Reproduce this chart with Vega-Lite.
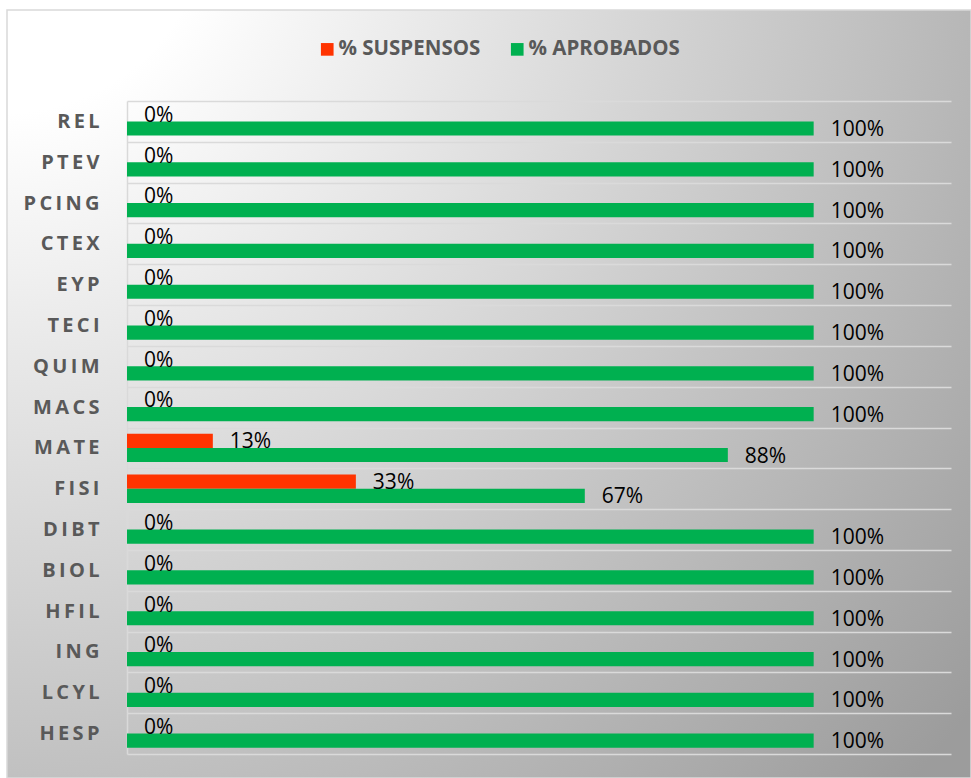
{
  "$schema": "https://vega.github.io/schema/vega-lite/v6.json",
  "width": 964,
  "height": 768,
  "autosize": {"type": "none"},
  "padding": {"left": 7, "top": 10, "right": 0, "bottom": 0},
  "background": "#ffffff",
  "config": {
    "view": {
      "stroke": "#D9D9D9",
      "strokeWidth": 1.5,
      "fill": {
        "gradient": "radial",
        "x1": 0, "y1": 0, "r1": 0,
        "x2": 0, "y2": 0, "r2": 1.3,
        "stops": [
          {"offset": 0, "color": "#ffffff"},
          {"offset": 0.16, "color": "#ffffff"},
          {"offset": 1, "color": "#9c9c9c"}
        ]
      }
    },
    "font": "Open Sans"
  },
  "data": {
    "values": [
      {"asignatura": "REL", "serie": "% SUSPENSOS", "valor": 0},
      {"asignatura": "REL", "serie": "% APROBADOS", "valor": 1},
      {"asignatura": "PTEV", "serie": "% SUSPENSOS", "valor": 0},
      {"asignatura": "PTEV", "serie": "% APROBADOS", "valor": 1},
      {"asignatura": "PCING", "serie": "% SUSPENSOS", "valor": 0},
      {"asignatura": "PCING", "serie": "% APROBADOS", "valor": 1},
      {"asignatura": "CTEX", "serie": "% SUSPENSOS", "valor": 0},
      {"asignatura": "CTEX", "serie": "% APROBADOS", "valor": 1},
      {"asignatura": "EYP", "serie": "% SUSPENSOS", "valor": 0},
      {"asignatura": "EYP", "serie": "% APROBADOS", "valor": 1},
      {"asignatura": "TECI", "serie": "% SUSPENSOS", "valor": 0},
      {"asignatura": "TECI", "serie": "% APROBADOS", "valor": 1},
      {"asignatura": "QUIM", "serie": "% SUSPENSOS", "valor": 0},
      {"asignatura": "QUIM", "serie": "% APROBADOS", "valor": 1},
      {"asignatura": "MACS", "serie": "% SUSPENSOS", "valor": 0},
      {"asignatura": "MACS", "serie": "% APROBADOS", "valor": 1},
      {"asignatura": "MATE", "serie": "% SUSPENSOS", "valor": 0.125},
      {"asignatura": "MATE", "serie": "% APROBADOS", "valor": 0.875},
      {"asignatura": "FISI", "serie": "% SUSPENSOS", "valor": 0.3333},
      {"asignatura": "FISI", "serie": "% APROBADOS", "valor": 0.6667},
      {"asignatura": "DIBT", "serie": "% SUSPENSOS", "valor": 0},
      {"asignatura": "DIBT", "serie": "% APROBADOS", "valor": 1},
      {"asignatura": "BIOL", "serie": "% SUSPENSOS", "valor": 0},
      {"asignatura": "BIOL", "serie": "% APROBADOS", "valor": 1},
      {"asignatura": "HFIL", "serie": "% SUSPENSOS", "valor": 0},
      {"asignatura": "HFIL", "serie": "% APROBADOS", "valor": 1},
      {"asignatura": "ING", "serie": "% SUSPENSOS", "valor": 0},
      {"asignatura": "ING", "serie": "% APROBADOS", "valor": 1},
      {"asignatura": "LCYL", "serie": "% SUSPENSOS", "valor": 0},
      {"asignatura": "LCYL", "serie": "% APROBADOS", "valor": 1},
      {"asignatura": "HESP", "serie": "% SUSPENSOS", "valor": 0},
      {"asignatura": "HESP", "serie": "% APROBADOS", "valor": 1}
    ]
  },
  "encoding": {
    "y": {
      "field": "asignatura",
      "type": "nominal",
      "sort": ["REL", "PTEV", "PCING", "CTEX", "EYP", "TECI", "QUIM", "MACS", "MATE", "FISI", "DIBT", "BIOL", "HFIL", "ING", "LCYL", "HESP"],
      "scale": {"range": [91, 744], "paddingInner": 0, "paddingOuter": 0},
      "axis": {
        "title": null,
        "orient": "left",
        "offset": -120,
        "ticks": false,
        "labelPadding": 28,
        "labelFont": "Open Sans",
        "labelFontSize": 20,
        "labelFontWeight": "bold",
        "labelColor": "#595959",
        "labelExpr": "join(split(datum.label, ''), '\u2009')",
        "domainColor": "#D9D9D9",
        "domainWidth": 1.5,
        "grid": true,
        "gridColor": "#DADADA",
        "gridWidth": 1.5,
        "tickBand": "extent"
      }
    },
    "yOffset": {
      "field": "serie",
      "type": "nominal",
      "scale": {"domain": ["% SUSPENSOS", "% APROBADOS"], "paddingInner": 0, "paddingOuter": 0.436}
    },
    "x": {
      "field": "valor",
      "type": "quantitative",
      "scale": {"domain": [0, 1.2], "range": [120, 944], "nice": false, "zero": true},
      "axis": null
    }
  },
  "layer": [
    {
      "mark": {"type": "bar"},
      "encoding": {
        "color": {
          "field": "serie",
          "type": "nominal",
          "scale": {"domain": ["% SUSPENSOS", "% APROBADOS"], "range": ["#FF3300", "#00B050"]},
          "legend": {
            "title": null,
            "orient": "none",
            "legendX": 310,
            "legendY": 29,
            "direction": "horizontal",
            "symbolType": "square",
            "symbolSize": 160,
            "symbolStrokeWidth": 0,
            "labelFont": "Open Sans",
            "labelFontSize": 20.5,
            "labelFontWeight": "bold",
            "labelColor": "#595959",
            "labelOffset": 1,
            "columnPadding": 26
          }
        }
      }
    },
    {
      "mark": {"type": "text", "align": "left", "baseline": "middle", "dx": 17, "dy": 1.5, "fontSize": 21, "font": "Open Sans", "color": "#000000"},
      "encoding": {
        "text": {"field": "valor", "type": "quantitative", "format": ".0%"}
      }
    }
  ]
}
